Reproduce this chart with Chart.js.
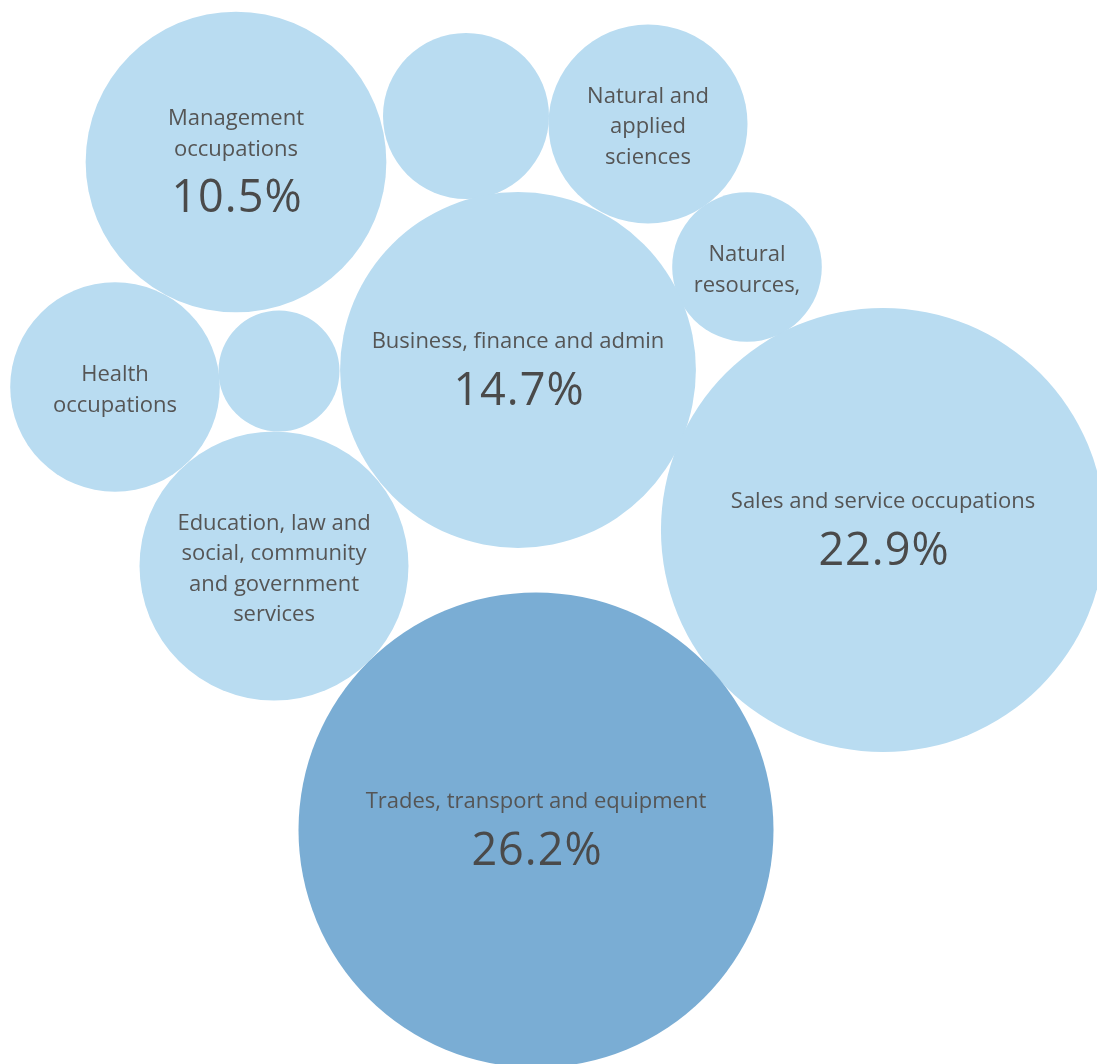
<!DOCTYPE html>
<html>
<head>
<meta charset="utf-8">
<title>Occupations</title>
<script src="https://cdn.jsdelivr.net/npm/chart.js@4/dist/chart.umd.min.js"></script>
<style>
  html, body { margin: 0; padding: 0; background: #fff; }
  #wrap { position: relative; width: 1097px; height: 1064px; }
</style>
</head>
<body>
<div id="wrap"><canvas id="bubbleChart"></canvas></div>
<script>
// label lines per bubble (empty = no room for text)
const categories = [
    ['Management', 'occupations'],
    [],
    ['Natural and', 'applied', 'sciences'],
    ['Natural', 'resources,'],
    ['Health', 'occupations'],
    [],
    ['Business, finance and admin'],
    ['Sales and service occupations'],
    ['Education, law and', 'social, community', 'and government', 'services'],
    ['Trades, transport and equipment']
];
// share of workers, %
const shares = [10.5, 3.2, 4.6, 2.6, 5.1, 1.7, 14.7, 22.9, 8.4, 26.2];

// packed layout, in axis units
const bubbleX = [236, 466, 648, 747, 115, 279, 518, 883, 274, 536];
const bubbleY = [162, 116, 124, 267, 387, 371, 370, 530, 566, 830];

const LIGHT = '#b9dcf1';
const DARK = '#7aadd4';
const TEXT = '#555555';
const PX_PER_SQRT = 46.4;   // bubble area proportional to share

const maxShare = Math.max(...shares);

const points = shares.map((v, i) => ({
    x: bubbleX[i],
    y: bubbleY[i],
    r: PX_PER_SQRT * Math.sqrt(v),
    v: v
}));

// draws category text and, for the big ones, the share
const bubbleLabels = {
    id: 'bubbleLabels',
    afterDatasetsDraw(chart) {
        const ctx = chart.ctx;
        const meta = chart.getDatasetMeta(0);
        ctx.save();
        ctx.textAlign = 'center';
        ctx.textBaseline = 'middle';
        meta.data.forEach((el, i) => {
            const lines = categories[i];
            if (!lines.length) return;
            const showPct = shares[i] >= 10;
            const lh = 30.5;
            const gap = 50;
            let top;
            if (showPct) {
                top = el.y - 3 - ((lines.length - 1) * lh + gap) / 2;
            } else {
                top = el.y + 3 - (lines.length - 1) * lh / 2;
            }
            ctx.fillStyle = TEXT;
            ctx.letterSpacing = '0px';
            ctx.font = '22px "Open Sans", "Noto Sans", sans-serif';
            lines.forEach((t, j) => ctx.fillText(t, el.x, top + j * lh));
            if (showPct) {
                ctx.fillStyle = '#4a4a4a';
                ctx.letterSpacing = '1px';
                ctx.font = '45px "Open Sans", "Noto Sans", sans-serif';
                ctx.fillText(shares[i].toFixed(1) + '%', el.x + 1, top + (lines.length - 1) * lh + gap);
            }
        });
        ctx.restore();
    }
};

new Chart(document.getElementById('bubbleChart'), {
    type: 'bubble',
    data: {
        datasets: [{
            data: points,
            backgroundColor: points.map(p => p.v === maxShare ? DARK : LIGHT),
            hoverBackgroundColor: points.map(p => p.v === maxShare ? DARK : LIGHT),
            borderWidth: 0,
            hoverBorderWidth: 0,
            clip: false
        }]
    },
    options: {
        responsive: true,
        maintainAspectRatio: false,
        animation: false,
        layout: { padding: 0, autoPadding: false },
        plugins: {
            legend: { display: false },
            tooltip: { enabled: false }
        },
        scales: {
            x: { type: 'linear', min: 0, max: 1097, display: false },
            y: { type: 'linear', min: 0, max: 1064, reverse: true, display: false }
        }
    },
    plugins: [bubbleLabels]
});
</script>
</body>
</html>
